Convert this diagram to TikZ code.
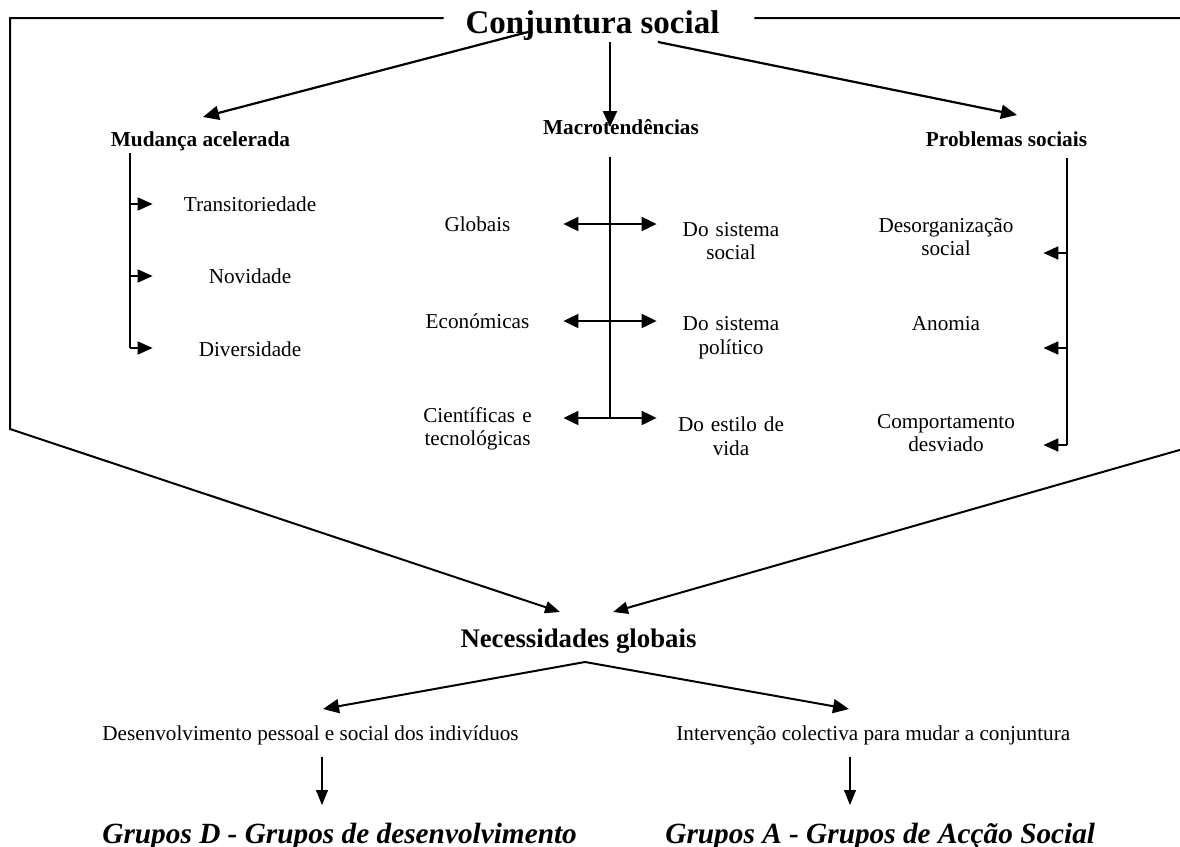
\documentclass[tikz,border=0pt]{standalone}
\usepackage{fontspec}
\setmainfont{Liberation Serif}
\usetikzlibrary{
  arrows.meta
}

\begin{document}
\begin{tikzpicture}[x=0.5pt,y=-0.5pt,
    every node/.style={inner sep=0pt},
    txt/.style={font=\fontsize{10.6pt}{11.8pt}\selectfont, align=center, text width=#1},
    txt/.default=72pt,
    plain/.style={font=\fontsize{10.6pt}{11.8pt}\selectfont, anchor=base west},
    head/.style={font=\fontsize{10.65pt}{12pt}\selectfont\bfseries, anchor=base},
    title/.style={font=\fontsize{16.5pt}{19pt}\selectfont\bfseries, anchor=base},
    nec/.style={font=\fontsize{13.4pt}{16pt}\selectfont\bfseries, anchor=base},
    grp/.style={font=\fontsize{14.65pt}{17pt}\selectfont\bfseries\itshape, anchor=base west},
    frame/.style={line width=1pt, -{Triangle[length=7.5pt,width=6pt]}},
    bar/.style={line width=0.8pt},
    arr/.style={line width=1.1pt, -{Triangle[length=8pt,width=7pt]}},
    sarr/.style={line width=0.9pt, -{Triangle[length=7.5pt,width=6.5pt]}},
    darr/.style={line width=1pt, {Triangle[length=7.5pt,width=7pt]}-{Triangle[length=7.5pt,width=7pt]}},
    thinarr/.style={line width=0.6pt, -{Triangle[length=7.5pt,width=6pt]}}
  ]
  \useasboundingbox (0,0) rectangle (1180,847);

  % top
  \node[title] (conj) at (592.5,33) {Conjuntura social};
  \node[head] (mud) at (200.5,146) {Mudança acelerada};
  \node[head] (macro) at (621,134) {Macrotendências};
  \node[head] (prob) at (1006.5,146) {Problemas sociais};
  \draw[arr] ([shift={(-64.5,-1)}]conj.base) -- ([shift={(2.5,-29)}]mud.base);
  \draw[arr] ([shift={(17.5,9)}]conj.base) -- ([shift={(-11,-7)}]macro.base);
  \draw[arr] ([shift={(65.5,9)}]conj.base) -- ([shift={(10.5,-31)}]prob.base);

  % mudança acelerada
  \node[txt] (trans) at (250,204) {Transitoriedade};
  \node[txt] (novid) at (250,276) {Novidade};
  \node[txt] (divers) at (250,349) {Diversidade};
  \coordinate (mudtop) at (130,153);
  \coordinate (mudbot) at (130,348);
  \draw[bar] (mudtop) -- (mudbot);
  \foreach \n in {trans,novid}
    \draw[sarr] (mudtop |- \n.west) -- ([xshift=-12.5pt]\n.west);
  \draw[sarr] (mudbot) -- ([xshift=-12.5pt]mudbot -| divers.west);

  % macrotendencias
  \node[txt=55pt] (glob) at (477.5,224) {Globais};
  \node[txt=55pt] (econ) at (477.5,321) {Económicas};
  \node[txt=55pt] (cient) at (477.5,429) {Científicas e\\tecnológicas};
  \node[txt=55pt] (dsoc) at (731,241) {Do sistema\\social};
  \node[txt=55pt] (dpol) at (731,338) {Do sistema\\político};
  \node[txt=55pt] (dvida) at (731,436) {Do estilo de\\vida};
  \coordinate (mactop) at (610,157);
  \coordinate (macbot) at (610,418);
  \draw[bar] (mactop) -- (macbot);
  \draw[darr] ([xshift=15.25pt]glob.east) -- ([xshift=-9.5pt]dsoc.west |- glob.east);
  \draw[darr] ([xshift=15.25pt]econ.east) -- ([xshift=-9.5pt]dpol.west |- econ.east);
  \draw[darr] ([xshift=15.25pt]cient.east |- macbot) -- ([xshift=-9.5pt]dvida.west |- macbot);

  % problemas sociais
  \node[txt] (desorg) at (946,237) {Desorganização\\social};
  \node[txt] (anom) at (946,324) {Anomia};
  \node[txt] (compor) at (946,433) {Comportamento\\desviado};
  \coordinate (probtop) at (1067,158);
  \coordinate (probbot) at (1067,445);
  \draw[bar] (probtop) -- (probbot);
  \draw[sarr] ([yshift=-8pt]probtop |- desorg.east) -- ([shift={(12.5pt,-8pt)}]desorg.east);
  \draw[sarr] ([yshift=-12pt]probtop |- anom.east) -- ([shift={(12.5pt,-12pt)}]anom.east);
  \draw[sarr] (probbot) -- ([xshift=12.5pt]probbot -| compor.east);

  % necessidades globais
  \node[nec] (neces) at (578.5,647) {Necessidades globais};
  \coordinate (tl) at (10,18);
  \coordinate (bl) at (10,429);
  \coordinate (tr) at (1183,18);
  \coordinate (br) at (1183,449);
  \draw[frame] ([xshift=-10.75pt]tl -| conj.west) -- (tl) -- (bl) -- ([shift={(-18.5,-35)}]neces.base);
  \draw[frame] ([xshift=17.25pt]tr -| conj.east) -- (tr) -- (br) -- ([shift={(34.5,-35)}]neces.base);

  % bottom
  \node[plain] (desenv) at (102,740) {Desenvolvimento pessoal e social dos indivíduos};
  \node[plain] (interv) at (676,740) {Intervenção colectiva para mudar a conjuntura};
  \node[grp] (grpd) at (102,843) {Grupos D - Grupos de desenvolvimento};
  \node[grp] (grpa) at (665,843) {Grupos A - Grupos de Acção Social};
  \draw[arr, line width=1pt] ([shift={(6.5,15)}]neces.base) -- ([shift={(221,-31)}]desenv.base west);
  \draw[arr, line width=1pt] ([shift={(6.5,15)}]neces.base) -- ([shift={(173,-31)}]interv.base west);
  \draw[thinarr] ([shift={(220,17)}]desenv.base west) -- ([shift={(220,-38)}]grpd.base west);
  \draw[thinarr] ([shift={(174,17)}]interv.base west) -- ([shift={(185,-38)}]grpa.base west);
\end{tikzpicture}
\end{document}
